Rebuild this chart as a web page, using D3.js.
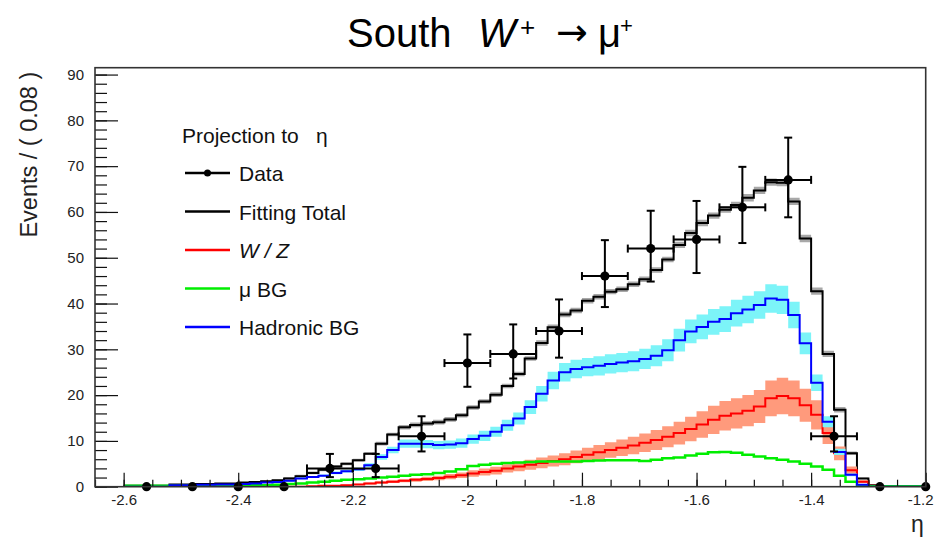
<!DOCTYPE html>
<html>
<head>
<meta charset="utf-8">
<script src="https://cdn.jsdelivr.net/npm/d3@7"></script>
<style>
  body { margin: 0; background: #fff; }
  svg text { font-family: "Liberation Sans", Arial, Helvetica, sans-serif; }
</style>
</head>
<body>
<svg id="chart" width="934" height="541"></svg>
<script>
// fine binning of the fit curves (0.02 wide, first edge at -2.60)
const binLo = -2.60, binW = 0.02;

const totalFit = [
  0.2, 0.2, 0.2, 0.2, 0.5, 0.5, 0.6, 0.6, 0.7, 0.7,
  0.9, 1.0, 1.2, 1.4, 1.8, 2.3, 3.0, 3.7, 4.4, 5.0,
  5.8, 7.2, 9.4, 11.4, 13.0, 13.5, 13.8, 14.1, 14.7, 15.6,
  17.3, 18.6, 20.1, 22.0, 24.6, 28.0, 31.4, 34.8, 37.6, 38.5,
  40.6, 41.5, 42.6, 43.1, 44.2, 45.3, 47.3, 49.6, 52.8, 55.4,
  57.6, 59.2, 60.5, 61.5, 63.1, 64.7, 66.5, 66.4, 62.3, 54.2,
  42.7, 29.0, 16.8, 7.3, 1.8, 0.3, 0.1, 0.1, 0.1, 0.1
];
const totalErr = [
  0.1, 0.1, 0.1, 0.1, 0.1, 0.1, 0.1, 0.1, 0.1, 0.1,
  0.1, 0.1, 0.1, 0.1, 0.3, 0.3, 0.3, 0.3, 0.3, 0.3,
  0.3, 0.3, 0.4, 0.4, 0.5, 0.5, 0.5, 0.5, 0.5, 0.5,
  0.5, 0.5, 0.5, 0.5, 0.5, 0.5, 0.6, 0.6, 0.6, 0.6,
  0.6, 0.6, 0.6, 0.6, 0.6, 0.6, 0.6, 0.6, 0.7, 0.7,
  0.7, 0.7, 0.7, 0.7, 0.8, 0.8, 0.8, 0.8, 0.8, 0.8,
  0.8, 0.7, 0.6, 0.4, 0.2, 0.1, 0.0, 0.0, 0.0, 0.0
];
const wz = [
  0, 0, 0, 0, 0, 0, 0, 0, 0, 0,
  0, 0, 0, 0, 0, 0, 0.1, 0.2, 0.2, 0.3,
  0.5, 0.7, 0.9, 1.1, 1.3, 1.5, 1.7, 1.9, 2.2, 2.5,
  2.9, 3.2, 3.5, 4.0, 4.4, 4.8, 5.2, 5.6, 6.0, 6.5,
  7.0, 7.5, 8.0, 8.5, 9.0, 9.6, 10.2, 10.9, 11.7, 12.6,
  13.6, 14.6, 15.5, 16.0, 16.6, 17.5, 19.3, 19.8, 19.3, 17.8,
  15.7, 11.7, 7.3, 3.6, 1.1, 0.2, 0, 0, 0, 0
];
const wzErr = [
  0, 0, 0, 0, 0, 0, 0, 0, 0, 0,
  0, 0, 0, 0, 0, 0, 0.05, 0.1, 0.1, 0.1,
  0.15, 0.2, 0.25, 0.3, 0.35, 0.4, 0.45, 0.5, 0.55, 0.6,
  0.7, 0.75, 0.85, 0.9, 1.0, 1.1, 1.15, 1.2, 1.3, 1.4,
  1.5, 1.6, 1.7, 1.8, 1.9, 2.0, 2.2, 2.3, 2.5, 2.7,
  2.9, 3.1, 3.2, 3.3, 3.4, 3.6, 3.9, 4.0, 3.9, 3.6,
  3.2, 2.4, 1.5, 0.8, 0.3, 0.05, 0, 0, 0, 0
];
const muBG = [
  0.2, 0.2, 0.2, 0.2, 0.2, 0.2, 0.2, 0.2, 0.2, 0.2,
  0.3, 0.3, 0.3, 0.4, 0.6, 0.7, 0.9, 1.1, 1.3, 1.5,
  1.6, 1.8, 2.0, 2.2, 2.4, 2.6, 2.7, 3.0, 3.3, 3.8,
  4.5, 4.8, 5.0, 5.2, 5.3, 5.4, 5.5, 5.5, 5.5, 5.5,
  5.6, 5.7, 5.8, 5.8, 5.8, 5.6, 5.9, 6.2, 6.4, 6.8,
  7.2, 7.5, 7.6, 7.4, 7.0, 6.6, 6.2, 5.9, 5.5, 5.0,
  4.4, 3.7, 2.4, 1.1, 0.3, 0.1, 0.1, 0.1, 0.1, 0.1
];
const hadBG = [
  0, 0, 0, 0, 0.3, 0.3, 0.4, 0.4, 0.5, 0.5,
  0.6, 0.7, 0.9, 1.0, 1.3, 1.8, 2.1, 2.4, 3.0, 3.4,
  3.8, 4.7, 6.5, 8.0, 9.4, 9.4, 9.3, 9.1, 9.2, 9.5,
  10.4, 11.1, 12.0, 13.4, 14.9, 17.4, 20.3, 23.2, 25.0, 25.7,
  26.1, 26.4, 26.8, 27.1, 27.4, 27.9, 28.6, 29.8, 32.0, 33.9,
  34.9, 36.0, 36.6, 37.9, 38.7, 39.7, 41.1, 40.8, 37.5, 31.3,
  22.7, 14.2, 7.6, 2.6, 0.4, 0, 0, 0, 0, 0
];
const hadErr = [
  0, 0, 0, 0, 0.05, 0.05, 0.05, 0.05, 0.05, 0.05,
  0.1, 0.1, 0.1, 0.1, 0.15, 0.2, 0.2, 0.25, 0.3, 0.3,
  0.35, 0.4, 0.6, 0.7, 0.9, 0.9, 0.9, 0.9, 0.9, 1.0,
  1.0, 1.1, 1.1, 1.2, 1.3, 1.5, 1.7, 1.9, 2.0, 2.0,
  2.0, 2.1, 2.1, 2.1, 2.2, 2.2, 2.3, 2.4, 2.5, 2.6,
  2.7, 2.8, 2.8, 2.9, 3.0, 3.0, 3.1, 3.1, 2.9, 2.4,
  1.8, 1.2, 0.7, 0.3, 0.1, 0, 0, 0, 0, 0
];

// data (bins of 0.08)
const dataEta = [-2.56, -2.48, -2.40, -2.32, -2.24, -2.16, -2.08, -2.00, -1.92,
                 -1.84, -1.76, -1.68, -1.60, -1.52, -1.44, -1.36, -1.28, -1.20];
const dataN = [0, 0, 0, 0, 4, 4, 11, 27, 29, 34, 46, 52, 54, 61, 67, 11, 0, 0];
const dataErrLo = [0, 0, 0, 0, 1.91, 1.91, 3.30, 5.18, 5.37, 5.82, 6.77, 7.20, 7.34, 7.79, 8.17, 3.30, 0, 0];
const dataErrHi = [0, 0, 0, 0, 3.16, 3.16, 4.38, 6.25, 6.44, 6.89, 7.84, 8.26, 8.40, 8.85, 9.23, 4.38, 0, 0];
const dataHalfW = 0.04;

const legendItems = [
  { label: "Data", color: "#000", kind: "data" },
  { label: "Fitting Total", color: "#000" },
  { label: "W / Z", color: "#ff0000", italic: true },
  { label: "\u03bc BG", color: "#00ee00" },
  { label: "Hadronic BG", color: "#0000ff" }
];

const frame = { left: 95, right: 925.7, top: 67.7, bottom: 486.7 };

const svg = d3.select("#chart");
const x = d3.scaleLinear().domain([-2.65, -1.2]).range([frame.left, frame.right]);
const y = d3.scaleLinear().domain([0, 91.5]).range([frame.bottom, frame.top]);

svg.append("defs").append("clipPath").attr("id", "frameClip")
  .append("rect")
  .attr("x", frame.left).attr("y", frame.top)
  .attr("width", frame.right - frame.left).attr("height", frame.bottom - frame.top);

// turn a fine-binned array into step points
const stepPts = vals => {
  const pts = vals.map((v, i) => [binLo + i * binW, v]);
  pts.push([binLo + vals.length * binW, vals[vals.length - 1]]);
  return pts;
};
const bandPts = (vals, errs) => {
  const pts = vals.map((v, i) => [binLo + i * binW, v - errs[i], v + errs[i]]);
  pts.push([binLo + vals.length * binW, pts[pts.length - 1][1], pts[pts.length - 1][2]]);
  return pts;
};

const line = d3.line().x(d => x(d[0])).y(d => y(d[1])).curve(d3.curveStepAfter);
const area = d3.area().x(d => x(d[0])).y0(d => y(Math.max(0, d[1]))).y1(d => y(d[2])).curve(d3.curveStepAfter);

const plot = svg.append("g").attr("clip-path", "url(#frameClip)");

// total fit
plot.append("path").attr("d", area(bandPts(totalFit, totalErr))).attr("fill", "#a8a8a8");
plot.append("path").attr("d", line(stepPts(totalFit)))
  .attr("fill", "none").attr("stroke", "#000").attr("stroke-width", 2);

// W/Z
plot.append("path").attr("d", area(bandPts(wz, wzErr))).attr("fill", "#ff9a7c");
plot.append("path").attr("d", line(stepPts(wz)))
  .attr("fill", "none").attr("stroke", "#ff0000").attr("stroke-width", 2);

// mu BG
plot.append("path").attr("d", line(stepPts(muBG)))
  .attr("fill", "none").attr("stroke", "#00ee00").attr("stroke-width", 2.5);

// hadronic BG
plot.append("path").attr("d", area(bandPts(hadBG, hadErr))).attr("fill", "#7cf4f8");
plot.append("path").attr("d", line(stepPts(hadBG)))
  .attr("fill", "none").attr("stroke", "#0000ff").attr("stroke-width", 2);

// data points
const data = dataEta.map((e, i) => ({ eta: e, n: dataN[i], lo: dataErrLo[i], hi: dataErrHi[i] }));
const dg = svg.append("g").attr("stroke", "#000").attr("stroke-width", 2);
const cap = 4;
data.filter(d => d.n > 0).forEach(d => {
  const cx = x(d.eta), cy = y(d.n);
  const xl = x(d.eta - dataHalfW), xr = x(d.eta + dataHalfW);
  const yt = y(d.n + d.hi), yb = y(d.n - d.lo);
  dg.append("line").attr("x1", xl).attr("x2", xr).attr("y1", cy).attr("y2", cy);
  dg.append("line").attr("x1", xl).attr("x2", xl).attr("y1", cy - cap).attr("y2", cy + cap);
  dg.append("line").attr("x1", xr).attr("x2", xr).attr("y1", cy - cap).attr("y2", cy + cap);
  dg.append("line").attr("x1", cx).attr("x2", cx).attr("y1", yt).attr("y2", yb);
  dg.append("line").attr("x1", cx - cap).attr("x2", cx + cap).attr("y1", yt).attr("y2", yt);
  dg.append("line").attr("x1", cx - cap).attr("x2", cx + cap).attr("y1", yb).attr("y2", yb);
});
svg.append("g").selectAll("circle").data(data).enter().append("circle")
  .attr("cx", d => x(d.eta)).attr("cy", d => y(d.n)).attr("r", 4.6).attr("fill", "#000");

// axes (ticks point inward, ROOT style)
const fmtX = d => String(+d.toFixed(2));
const yAxisMajor = d3.axisLeft(y).tickValues(y.ticks(10)).tickSize(-23).tickPadding(11).tickFormat(d3.format("d"));
const yAxisMinor = d3.axisLeft(y).tickValues(y.ticks(45)).tickSize(-12).tickFormat("");
const xAxisMajor = d3.axisBottom(x).tickValues(x.ticks(8)).tickSize(-14).tickPadding(8).tickFormat(fmtX);
const xAxisMinor = d3.axisBottom(x).tickValues(x.ticks(29)).tickSize(-7).tickFormat("");

const styleAxis = g => {
  g.select(".domain").remove();
  g.selectAll("line").attr("stroke", "#111").attr("stroke-width", 1.2);
  g.selectAll("text").attr("font-size", 15).attr("fill", "#222")
    .style("font-family", "'Liberation Sans', Arial, sans-serif");
};
svg.append("g").attr("transform", `translate(${frame.left},0)`).call(yAxisMinor).call(styleAxis);
svg.append("g").attr("transform", `translate(${frame.left},0)`).call(yAxisMajor).call(styleAxis);
svg.append("g").attr("transform", `translate(0,${frame.bottom})`).call(xAxisMinor).call(styleAxis);
const xg = svg.append("g").attr("transform", `translate(0,${frame.bottom})`).call(xAxisMajor).call(styleAxis);
// last label sits against the window edge, as in the original
xg.selectAll("text").filter(d => d === x.domain()[1])
  .attr("text-anchor", "end").attr("x", 933 - frame.right);

// frame
svg.append("rect")
  .attr("x", frame.left).attr("y", frame.top)
  .attr("width", frame.right - frame.left).attr("height", frame.bottom - frame.top)
  .attr("fill", "none").attr("stroke", "#333").attr("stroke-width", 1.6);

// axis titles
svg.append("text")
  .attr("transform", `translate(37,${frame.top + 4}) rotate(-90)`)
  .attr("text-anchor", "end").attr("font-size", 23.5).attr("fill", "#222")
  .text("Events / ( 0.08 )");
svg.append("text")
  .attr("x", frame.right - 2).attr("y", 532)
  .attr("text-anchor", "end").attr("font-size", 23).attr("fill", "#222")
  .text("\u03b7");

// title
const title = svg.append("g").attr("fill", "#000");
title.append("text").attr("x", 347).attr("y", 47).attr("font-size", 40).text("South");
title.append("text").attr("x", 478).attr("y", 47).attr("font-size", 40).attr("font-style", "italic").text("W");
title.append("text").attr("x", 520).attr("y", 36).attr("font-size", 26).text("+");
title.append("text").attr("x", 556).attr("y", 45).attr("font-size", 38)
  .style("font-family", "'DejaVu Sans', sans-serif").text("\u2192");
title.append("text").attr("x", 598).attr("y", 47).attr("font-size", 40).text("\u03bc");
title.append("text").attr("x", 620).attr("y", 33).attr("font-size", 22).text("+");

// legend
const lg = svg.append("g");
lg.append("text").attr("x", 182).attr("y", 143).attr("font-size", 21).attr("fill", "#111").text("Projection to");
lg.append("text").attr("x", 316).attr("y", 143).attr("font-size", 21).attr("fill", "#111").text("\u03b7");
const rowY = d3.scalePoint().domain(legendItems.map(d => d.label)).range([173, 327]);
legendItems.forEach(it => {
  const yy = rowY(it.label);
  lg.append("line").attr("x1", 185).attr("x2", 230).attr("y1", yy).attr("y2", yy)
    .attr("stroke", it.color).attr("stroke-width", 2.5);
  if (it.kind === "data") {
    lg.append("circle").attr("cx", 207.5).attr("cy", yy).attr("r", 3.5).attr("fill", "#000");
  }
  lg.append("text").attr("x", 239).attr("y", yy + 8).attr("font-size", 21).attr("fill", "#111")
    .attr("font-style", it.italic ? "italic" : null).text(it.label);
});
</script>
</body>
</html>
